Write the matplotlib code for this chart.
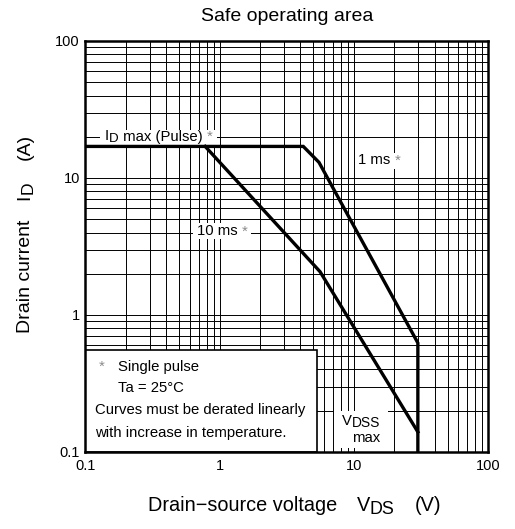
import matplotlib
matplotlib.use('Agg')
import matplotlib.pyplot as plt
from matplotlib.ticker import FixedLocator, LogLocator, NullFormatter, FixedFormatter
from matplotlib.patches import Rectangle
from matplotlib.transforms import Bbox, IdentityTransform

plt.rcParams['font.family'] = ['Liberation Sans', 'DejaVu Sans']

# ---------------- data ----------------
x_ticks = [0.1, 1, 10, 100]
x_tick_labels = ['0.1', '1', '10', '100']
y_ticks = [0.1, 1, 10, 100]
y_tick_labels = ['0.1', '1', '10', '100']

# 1 ms curve (includes I_D max pulse line and V_DSS limit)
v_1ms = [0.1, 4.2, 5.5, 30.0, 30.0]
i_1ms = [17.0, 17.0, 13.0, 0.625, 0.1]
# 10 ms curve
v_10ms = [0.78, 5.6, 30.0]
i_10ms = [17.0, 2.07, 0.14]

STAR = '#8a8a8a'
FS = 10.75
W, H = 515, 529

fig = plt.figure(figsize=(W / 100, H / 100), dpi=100)
ax = fig.add_axes([0.166, 0.1456, 0.7816, 0.7769])
ax.set_xscale('log')
ax.set_yscale('log')
ax.set_xlim(0.1, 100)
ax.set_ylim(0.1, 100)

ax.xaxis.set_major_locator(FixedLocator(x_ticks))
ax.xaxis.set_major_formatter(FixedFormatter(x_tick_labels))
ax.yaxis.set_major_locator(FixedLocator(y_ticks))
ax.yaxis.set_major_formatter(FixedFormatter(y_tick_labels))
ax.xaxis.set_minor_locator(LogLocator(base=10, subs=range(2, 10)))
ax.yaxis.set_minor_locator(LogLocator(base=10, subs=range(2, 10)))
ax.xaxis.set_minor_formatter(NullFormatter())
ax.yaxis.set_minor_formatter(NullFormatter())
ax.tick_params(which='both', length=0, labelsize=10.5)
ax.tick_params(axis='x', pad=5)
ax.tick_params(axis='y', pad=4)
ax.set_axisbelow(True)
ax.grid(which='both', color='black', linewidth=0.7)
for s in ax.spines.values():
    s.set_linewidth(1.8)
    s.set_zorder(6)

ax.plot(v_1ms, i_1ms, color='black', lw=2.4, zorder=3, solid_joinstyle='miter')
ax.plot(v_10ms, i_10ms, color='black', lw=2.4, zorder=3, solid_joinstyle='miter')

renderer = fig.canvas.get_renderer()


def chain(pieces, rotation=0, zorder=6):
    """pieces: (text, fontsize, start_px or None, gap_px, baseline_px, color).
    Horizontal: start = x px from left, baseline = y px from top.
    Rotated 90: start = y px from top (text runs upward), baseline = x px."""
    pos = None
    arts = []
    for txt, fs, start, gap, base, color in pieces:
        if start is not None:
            pos = start
        if rotation == 0:
            pos += gap
            t = fig.text(pos / W, 1 - base / H, txt, fontsize=fs, ha='left',
                         va='baseline', color=color, zorder=zorder)
            pos += t.get_window_extent(renderer).width
        else:
            pos -= gap
            t = fig.text(base / W, 1 - pos / H, txt, fontsize=fs, ha='left',
                         va='baseline', rotation=90, rotation_mode='anchor',
                         color=color, zorder=zorder)
            pos -= t.get_window_extent(renderer).height
        arts.append(t)
    return arts


def white_box(arts, padx, pady):
    bb = Bbox.union([a.get_window_extent(renderer) for a in arts])
    r = Rectangle((bb.x0 - padx, bb.y0 - pady), bb.width + 2 * padx,
                  bb.height + 2 * pady, transform=IdentityTransform(),
                  facecolor='white', edgecolor='none', zorder=2.5)
    ax.add_artist(r)


# curve labels (white backgrounds sit above the grid, below the curves)
white_box(chain([('I', FS, 105.0, 0, 140.5, 'black'),
                 ('D', FS * 0.9, None, 0, 142.5, 'black'),
                 (' max (Pulse) ', FS, None, 0, 140.5, 'black'),
                 ('*', FS, None, 0, 140.5, STAR)]), 5, 0)
white_box(chain([('1 ms ', FS, 358.0, 0, 164.5, 'black'),
                 ('*', FS, None, 0, 164.5, STAR)]), 3, 1)
white_box(chain([('10 ms ', FS, 196.7, 0, 235.5, 'black'),
                 ('*', FS, None, 0, 235.5, STAR)]), 4, 1)

# V_DSS max label
vd = chain([('V', FS, 341.7, 0, 425.0, 'black'),
            ('DSS', FS * 0.92, None, 0, 427.0, 'black')])
mx = chain([('max', FS, 351.7, 0, 441.7, 'black')])
white_box(vd + mx, 8, 3)

# note box
ax.add_patch(Rectangle((0, 0), 0.575, 0.248, transform=ax.transAxes,
                       facecolor='white', edgecolor='black', lw=1.2, zorder=5))
ax.text(0.040, 0.207, '*', transform=ax.transAxes, fontsize=FS, color=STAR,
        ha='center', va='center', zorder=6)
ax.text(0.0815, 0.2075, 'Single pulse', transform=ax.transAxes, fontsize=FS,
        ha='left', va='center', zorder=6)
ax.text(0.0815, 0.156, 'Ta = 25°C', transform=ax.transAxes, fontsize=FS,
        ha='left', va='center', zorder=6)
ax.text(0.0236, 0.102, 'Curves must be derated linearly', transform=ax.transAxes,
        fontsize=FS, ha='left', va='center', zorder=6)
ax.text(0.0236, 0.047, 'with increase in temperature.', transform=ax.transAxes,
        fontsize=FS, ha='left', va='center', zorder=6)

# title and axis labels
fig.text(0.557, 0.961, 'Safe operating area', ha='center', va='baseline', fontsize=14)

XL = 14.3
chain([('Drain\u2212source voltage', XL, 148.3, 0, 511.0, 'black'),
       ('V', XL, 356.7, 0, 511.0, 'black'),
       ('DS', XL * 0.9, None, 0, 514.3, 'black'),
       ('(V)', XL, 415.0, 0, 511.0, 'black')])

YL = 14.0
chain([('Drain current', YL, 333.0, 0, 29.5, 'black'),
       ('I', YL, None, 20, 29.5, 'black'),
       ('D', YL * 0.9, None, 0, 32.8, 'black'),
       ('(A)', YL, None, 22, 29.5, 'black')], rotation=90)

fig.savefig('out.png', dpi=100)
